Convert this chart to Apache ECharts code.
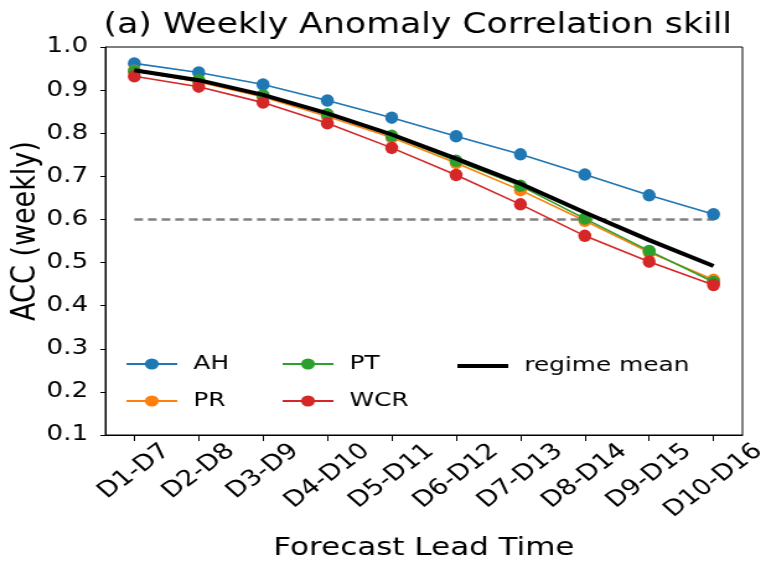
<!DOCTYPE html>
<html>
<head>
<meta charset="utf-8">
<script src="https://cdn.jsdelivr.net/npm/echarts@6/dist/echarts.min.js"></script>
<style>
  html, body { margin: 0; padding: 0; background: #fff; overflow: hidden; }
  /* the source figure is stretched sideways, so draw narrow and widen */
  #acc { width: 622px; height: 562px; transform: scaleX(1.2395); transform-origin: 0 0; }
</style>
</head>
<body>
<div id="acc"></div>
<script>
// lead time windows
var leadTimes = ['D1-D7', 'D2-D8', 'D3-D9', 'D4-D10', 'D5-D11', 'D6-D12', 'D7-D13', 'D8-D14', 'D9-D15', 'D10-D16'];

// ACC per regime
var accAH  = [0.962, 0.941, 0.913, 0.876, 0.836, 0.793, 0.751, 0.704, 0.656, 0.612];
var accPR  = [0.945, 0.919, 0.884, 0.839, 0.790, 0.731, 0.668, 0.597, 0.524, 0.460];
var accPT  = [0.944, 0.923, 0.888, 0.844, 0.794, 0.736, 0.678, 0.602, 0.527, 0.455];
var accWCR = [0.932, 0.908, 0.871, 0.823, 0.766, 0.703, 0.635, 0.562, 0.502, 0.448];
var accMean = [0.946, 0.923, 0.889, 0.846, 0.797, 0.741, 0.683, 0.616, 0.552, 0.492];

var threshold = 0.6;
var yTicks = [0.1, 0.2, 0.3, 0.4, 0.5, 0.6, 0.7, 0.8, 0.9, 1.0];

var font = 'DejaVu Sans';
var tickFont = 22;
var rot = 42;

function pairs(arr) {
    return arr.map(function (v, i) { return [i, v]; });
}

// rotated tick labels hang centred under the tick with their tops lined up
// (matplotlib style): longer labels are pushed down a bit with padding
var ctx = document.createElement('canvas').getContext('2d');
ctx.font = tickFont + 'px "' + font + '"';
var rad = rot * Math.PI / 180;
var widths = leadTimes.map(function (t) { return ctx.measureText(t).width; });
var minW = Math.min.apply(null, widths);
var richLabels = {};
widths.forEach(function (L, i) {
    var d = (L - minW) * Math.sin(rad) / 2;
    richLabels['t' + i] = {
        fontFamily: font,
        fontSize: tickFont,
        lineHeight: tickFont,
        color: '#000',
        padding: [2 * d * Math.cos(rad), 2 * d * Math.sin(rad), 0, 0]
    };
});
var labelMargin = 7 + (minW * Math.sin(rad) + 0.75 * tickFont * Math.cos(rad)) / 2;

var myChart = echarts.init(document.getElementById('acc'));

function dotSeries(name, color, values, z) {
    return {
        name: name,
        type: 'line',
        data: pairs(values),
        symbol: 'circle',
        symbolSize: [10.5, 12.5],
        z: z,
        lineStyle: { color: color, width: 1.6 },
        itemStyle: { color: color },
        animation: false
    };
}

var legendText = { fontFamily: font, fontSize: 20, color: '#000', padding: [0, 0, 0, 8] };

var option = {
    backgroundColor: '#fff',
    title: {
        text: '(a) Weekly Anomaly Correlation skill',
        left: 332,
        textAlign: 'center',
        top: 7,
        textStyle: { fontFamily: font, fontSize: 28, fontWeight: 'normal', color: '#000' }
    },
    legend: [
        {
            data: ['AH', 'PR'],
            orient: 'vertical',
            left: 96,
            top: 349,
            itemWidth: 41,
            itemHeight: 14,
            itemGap: 17,
            textStyle: legendText
        },
        {
            data: ['PT', 'WCR'],
            orient: 'vertical',
            left: 222,
            top: 349,
            itemWidth: 41,
            itemHeight: 14,
            itemGap: 17,
            textStyle: legendText
        },
        {
            data: [{ name: 'regime mean', icon: 'rect' }],
            orient: 'vertical',
            left: 364,
            top: 351,
            itemWidth: 41,
            itemHeight: 4,
            textStyle: legendText
        }
    ],
    grid: {
        left: 85,
        right: 23,
        top: 47,
        bottom: 127,
        containLabel: false,
        outerBoundsMode: 'none',
        show: true,
        borderColor: '#000',
        borderWidth: 1
    },
    xAxis: {
        type: 'value',
        min: -0.45,
        max: 9.45,
        name: 'Forecast Lead Time',
        nameLocation: 'middle',
        nameGap: 101,
        nameTextStyle: { fontFamily: font, fontSize: 25, color: '#000' },
        splitLine: { show: false },
        axisLine: { onZero: false, lineStyle: { color: '#000', width: 1 } },
        axisTick: {
            show: true,
            length: 6,
            customValues: leadTimes.map(function (_, i) { return i; }),
            lineStyle: { color: '#000' }
        },
        axisLabel: {
            customValues: leadTimes.map(function (_, i) { return i; }),
            hideOverlap: false,
            rotate: rot,
            align: 'center',
            verticalAlign: 'middle',
            margin: labelMargin,
            rich: richLabels,
            formatter: function (v) {
                var i = Math.round(v);
                return '{t' + i + '|' + leadTimes[i] + '}';
            }
        }
    },
    yAxis: {
        type: 'value',
        min: 0.1,
        max: 1.0,
        name: 'ACC (weekly)',
        nameLocation: 'middle',
        nameGap: 51,
        nameMoveOverlap: false,
        nameTextStyle: { fontFamily: font, fontSize: 27, color: '#000', padding: [0, 0, 0, 20] },
        splitLine: { show: false },
        axisLine: { show: true, onZero: false, lineStyle: { color: '#000', width: 1 } },
        axisTick: {
            show: true,
            length: 4,
            customValues: yTicks,
            lineStyle: { color: '#000' }
        },
        axisLabel: {
            customValues: yTicks,
            margin: 14,
            fontFamily: font,
            fontSize: 21,
            color: '#000',
            formatter: function (v) { return v.toFixed(1); }
        }
    },
    series: [
        {
            name: 'threshold',
            type: 'line',
            data: [[0, threshold], [leadTimes.length - 1, threshold]],
            symbol: 'none',
            z: 1,
            lineStyle: { color: '#808080', width: 2.5, type: [7, 4] },
            silent: true,
            animation: false
        },
        dotSeries('AH', '#1f77b4', accAH, 2),
        dotSeries('PR', '#ff7f0e', accPR, 3),
        dotSeries('PT', '#2ca02c', accPT, 4),
        dotSeries('WCR', '#d62728', accWCR, 5),
        {
            name: 'regime mean',
            type: 'line',
            data: pairs(accMean),
            symbol: 'none',
            z: 6,
            lineStyle: { color: '#000', width: 4 },
            itemStyle: { color: '#000' },
            animation: false
        }
    ]
};

myChart.setOption(option);
</script>
</body>
</html>
